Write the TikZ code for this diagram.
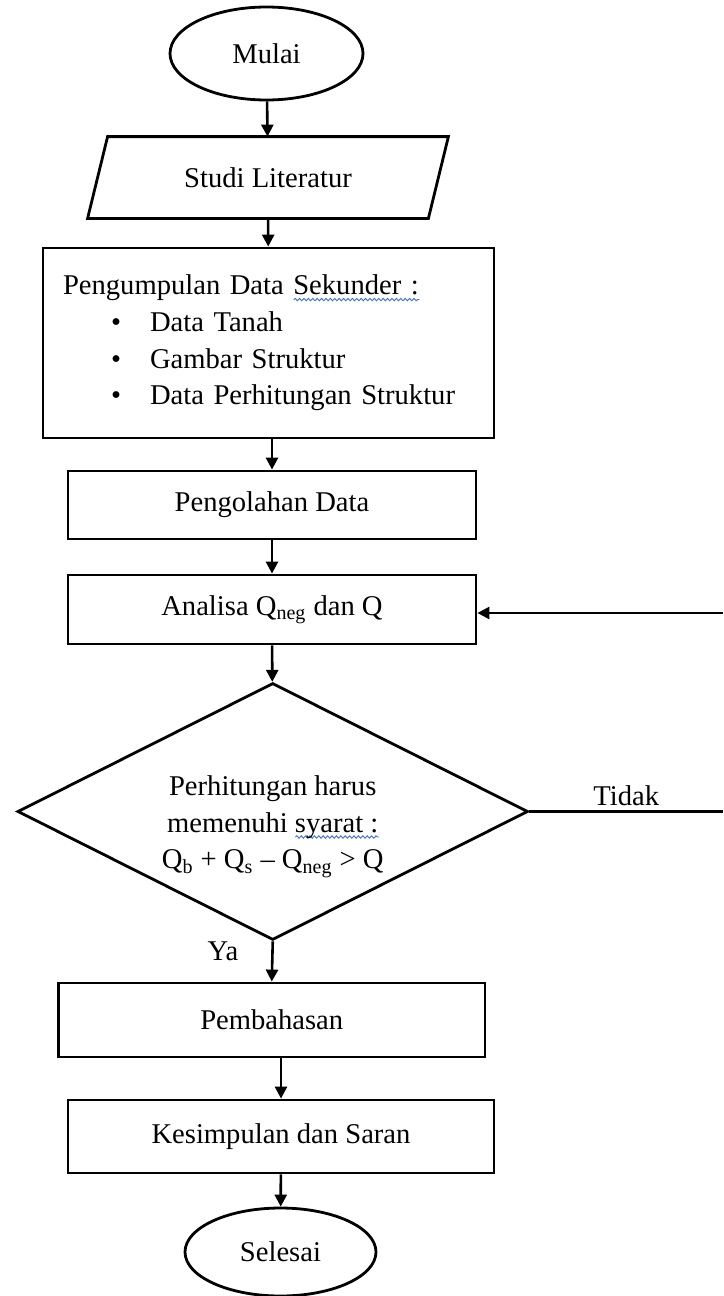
\documentclass[tikz,border=0pt]{standalone}
\usepackage{fontspec}
\setmainfont{Liberation Serif}
\usepackage{tikz}
\usetikzlibrary{shapes.geometric, arrows.meta, positioning, calc, decorations.pathmorphing}
\definecolor{spellblue}{HTML}{3F6FD6}
\newlength{\spellwd}
\newcommand{\spellwave}[1]{\settowidth{\spellwd}{#1}\rlap{\tikz[baseline=0pt]{\draw[spellblue, line width=0.45pt, decorate,
    decoration={snake, amplitude=0.6pt, segment length=2.2pt}] (0pt,-2.4pt) -- (\spellwd,-2.4pt);}}#1}
\newcommand{\bulletitem}[1]{\hspace*{24pt}\textbullet\hspace*{14.5pt}#1}

\begin{document}
\begin{tikzpicture}[
    x=0.5pt, y=-0.5pt,
    every node/.style={font=\fontsize{14.3}{18.35}\selectfont},
    terminal/.style={ellipse, draw, line width=1.4pt, inner sep=0pt},
    io/.style={rectangle, inner sep=0pt},
    slanted/.style={line width=1.4pt, line join=miter},
    process/.style={rectangle, draw, line width=1.4pt, align=center},
    decision/.style={diamond, shape aspect=2, draw, line width=1.4pt, inner sep=0pt, align=center},
    arrow/.style={line width=1.3pt, -{Triangle[length=6pt, width=6pt]}},
    link/.style={line width=1.3pt},
    note/.style={inner sep=2pt}
]
\useasboundingbox (0,0) rectangle (723,1296);

\node[terminal, minimum width=96.5pt, minimum height=46.5pt] (start) at (266.5,53.5) {Mulai};
\node[io, minimum width=170pt, minimum height=40.5pt] (lit) at (268,177.5) {Studi Literatur};
\draw[slanted] ([xshift=5pt]lit.north west) -- ([xshift=5pt]lit.north east)
    -- ([xshift=-5pt]lit.south east) -- ([xshift=-5pt]lit.south west) -- cycle;
\node[process, minimum width=225.5pt, minimum height=95pt, text width=205.5pt, align=left, inner xsep=10pt] (data) at (268.5,343)
    {Pengumpulan Data \spellwave{Sekunder :}\\
     \bulletitem{Data Tanah}\\
     \bulletitem{Gambar Struktur}\\
     \bulletitem{Data Perhitungan Struktur}};
\node[process, minimum width=204pt, minimum height=34pt] (olah) at (272,505) {Pengolahan Data};
\node[process, minimum width=204pt, minimum height=34.5pt] (ana) at (272,609.5) {Analisa Q\textsubscript{neg} dan Q};
\node[decision, minimum width=255.25pt, minimum height=128.5pt] (dec) at (272.75,811.5)
    {\rule{0pt}{25pt}Perhitungan harus\\memenuhi \spellwave{syarat :}\\Q\textsubscript{b} + Q\textsubscript{s} – Q\textsubscript{neg} > Q};
\node[process, minimum width=213.25pt, minimum height=37pt] (bahas) at (271.75,1020) {Pembahasan};
\node[process, minimum width=213pt, minimum height=36.5pt] (kesim) at (281,1136.5) {Kesimpulan dan Saran};
\node[terminal, minimum width=95.5pt, minimum height=44pt] (stop) at (280.5,1252) {Selesai};

% loop back (runs off the page on the right)
\coordinate (noout) at (723,811.5);
\coordinate (noin) at (723,613);

\draw[arrow] (start) -- (lit);
\draw[arrow] (lit) -- (data);
\draw[arrow] (data.south -| olah.north) -- (olah.north);
\draw[arrow] (olah) -- (ana);
\draw[arrow] (ana) -- (dec);
\draw[arrow] (dec.south) -- node[note, pos=0.25, left=14.5pt] {Ya} (bahas.north);
\draw[arrow] (bahas.south -| kesim.north) -- (kesim.north);
\draw[arrow] (kesim) -- (stop);
\draw[link] (dec.east) -- node[note, above] {Tidak} (noout);
\draw[arrow] (noin) -- (noin -| ana.east);

\end{tikzpicture}
\end{document}
